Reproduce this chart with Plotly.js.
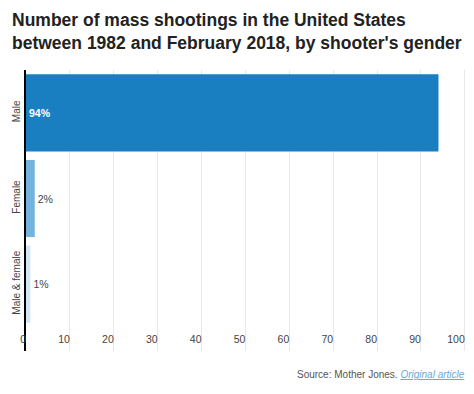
<!DOCTYPE html>
<html>
<head>
<meta charset="utf-8">
<script src="https://cdn.plot.ly/plotly-3.0.1.min.js"></script>
<style>html,body{margin:0;padding:0;background:#fff;}#chart{width:474px;height:394px;}</style>
</head>
<body>
<div id="chart"></div>
<script>
const categories = ["Male", "Female", "Male & female"];
const values = [94, 2, 1];
const labels = ["94%", "2%", "1%"];
const colors = ["#1a7fc1", "#74b3dd", "#d4e6f4"];
const tickVals = [0, 10, 20, 30, 40, 50, 60, 70, 80, 90, 100];

const FONT = "Liberation Sans, Arial, sans-serif";

const trace = {
  type: "bar",
  orientation: "h",
  y: categories,
  x: values,
  text: labels,
  marker: {color: colors},
  textposition: ["inside", "outside", "outside"],
  insidetextanchor: "start",
  textfont: {family: FONT, size: 10.5},
  insidetextfont: {color: "#ffffff", size: 10.5, family: FONT, weight: "bold"},
  outsidetextfont: {color: "#444444", size: 10.5, family: FONT},
  cliponaxis: false,
  hoverinfo: "none"
};

const layout = {
  width: 474, height: 394,
  margin: {l: 26, r: 7, t: 70, b: 43},
  paper_bgcolor: "#ffffff", plot_bgcolor: "#ffffff",
  bargap: 0.1,
  showlegend: false,
  xaxis: {
    range: [0, 100.5],
    tickvals: tickVals,
    ticktext: tickVals.map(String),
    showgrid: true, gridcolor: "#e8e8e8", gridwidth: 1,
    zeroline: false, showline: false,
    ticks: "",
    ticklabelposition: "inside left",
    ticklabeloverflow: "allow",
    tickfont: {family: FONT, size: 10.5, color: "#444444"},
    fixedrange: true
  },
  yaxis: {
    categoryorder: "array", categoryarray: categories,
    range: [2.78, -0.5],
    showline: true, linecolor: "#000000", linewidth: 2,
    showgrid: false, zeroline: false, ticks: "",
    tickangle: -90,
    tickfont: {family: FONT, size: 10, color: "#444444"},
    fixedrange: true
  },
  annotations: [
    {
      xref: "paper", yref: "paper", x: -0.036, y: 1.2206, xanchor: "left", yanchor: "top",
      align: "left", showarrow: false,
      text: "<b>Number of mass shootings in the United States<br>between 1982 and February 2018, by shooter's gender</b>",
      font: {family: FONT, size: 17.5, color: "#222222"}
    },
    {
      xref: "paper", yref: "paper", x: 1, y: -0.0819, xanchor: "right", yanchor: "middle",
      showarrow: false,
      text: "Source: Mother Jones. <i><span style='color:#6aa9d8'><u>Original article</u></span></i>",
      font: {family: FONT, size: 10, color: "#555555"}
    }
  ]
};

Plotly.newPlot("chart", [trace], layout, {displayModeBar: false, staticPlot: true});
</script>
</body>
</html>
